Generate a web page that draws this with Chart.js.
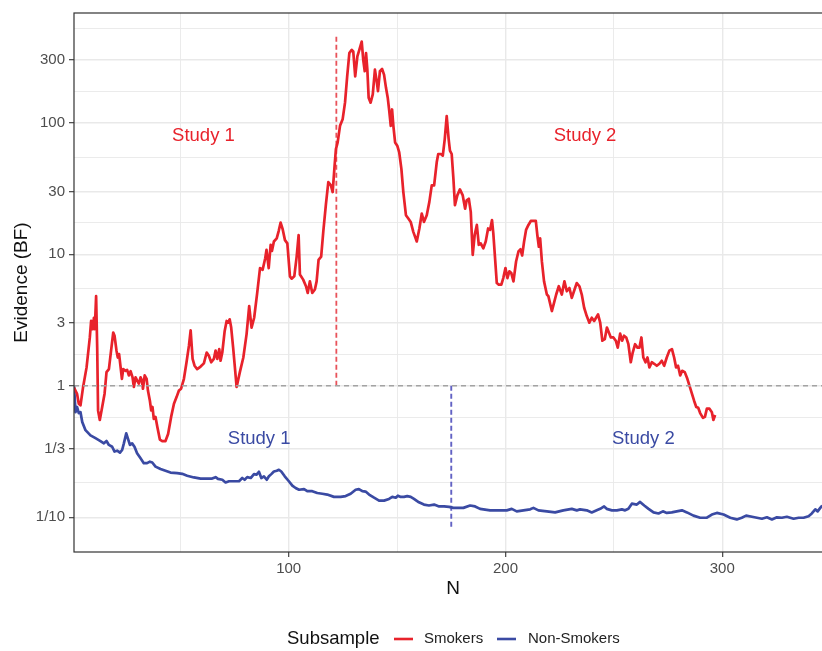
<!DOCTYPE html>
<html>
<head>
<meta charset="utf-8">
<script src="https://cdn.jsdelivr.net/npm/chart.js@4.4.1/dist/chart.umd.min.js"></script>
<style>
  html, body { margin: 0; padding: 0; background: #fff; }
</style>
</head>
<body>
<canvas id="bfChart" width="822" height="651"></canvas>
<script>
// Sequential Bayes factors
const smokersN = [1, 2.4, 3.2, 4.0, 5.2, 6.8, 8.3, 8.9, 9.6, 10.2, 10.6, 11.2, 11.7, 12.1, 12.9, 14.0, 15.1, 16.0, 17.1, 18.1,
  19.1, 19.7, 20.6, 21.2, 21.8, 22.5, 23.1, 23.7, 24.8, 25.5, 26.3, 27.1, 28.0, 28.6, 29.4, 30.1, 30.9, 31.7, 32.3, 32.8,
  33.6, 34.5, 35.1, 36.0, 36.6, 37.2, 37.8, 38.6, 39.4, 40.6, 41.7, 43.2, 44.4, 45.8, 47.1, 48.3, 49.4, 50.4, 51.7, 52.9,
  54.0, 54.8, 55.7, 56.6, 57.8, 59.4, 60.9, 62.2, 63.2, 64.3, 65.5, 66.3, 67.1, 68.0, 68.6, 69.4, 70.5, 71.4, 72.1, 72.8,
  73.5, 74.4, 76.0, 77.5, 79.1, 80.6, 81.8, 82.9, 84.1, 85.5, 86.8, 88.0, 89.2, 89.8, 90.8, 91.7, 92.3, 93.2, 94.5, 95.4,
  96.3, 97.2, 98.3, 99.4, 100.6, 101.4, 102.6, 103.7, 104.6, 105.2, 106.7, 108.0, 108.8, 109.8, 110.9, 112.1, 112.9, 113.8, 115.0, 116.0,
  117.2, 118.3, 119.5, 120.3, 121.2, 121.8, 122.6, 123.7, 124.9, 126.0, 127.0, 128.0, 129.1, 129.8, 130.7, 131.7, 132.6, 133.7, 134.4, 135.1,
  135.7, 136.3, 136.9, 137.8, 138.8, 139.8, 140.6, 141.2, 142.1, 143.1, 144.0, 144.9, 145.7, 146.4, 147.1, 147.7, 148.3, 149.1, 150.1, 151.0,
  152.0, 152.9, 154.1, 155.2, 156.3, 157.5, 159.1, 160.3, 161.4, 162.4, 163.7, 164.9, 166.0, 167.1, 168.3, 169.0, 170.2, 171.1, 172.0, 172.9,
  173.8, 174.4, 175.2, 176.0, 176.7, 177.8, 179.0, 180.3, 181.4, 182.1, 183.1, 184.0, 184.9, 185.8, 186.8, 187.7, 188.6, 189.8, 190.9, 192.0,
  192.9, 193.8, 194.4, 195.2, 196.0, 196.9, 198.1, 199.0, 200.0, 200.9, 201.8, 202.7, 203.7, 204.9, 206.0, 206.9, 207.7, 208.6, 209.5, 210.6,
  211.7, 214.0, 214.7, 215.4, 216.0, 216.8, 217.8, 219.1, 219.8, 221.4, 222.4, 223.4, 224.6, 226.0, 227.2, 228.3, 229.5, 230.6, 232.1, 232.9,
  234.1, 235.2, 236.3, 237.5, 238.7, 239.8, 240.9, 241.8, 242.7, 243.7, 244.7, 245.8, 246.8, 247.7, 248.6, 249.8, 250.9, 251.8, 252.9, 253.8,
  254.7, 255.7, 256.7, 257.8, 258.7, 259.8, 260.9, 261.8, 262.7, 263.6, 264.6, 265.5, 266.4, 267.5, 268.6, 269.8, 271.0, 272.1, 273.2, 274.4,
  275.6, 276.8, 277.8, 278.7, 279.6, 280.6, 281.5, 282.7, 283.9, 284.9, 286.0, 287.0, 288.0, 288.9, 289.8, 291.1, 292.0, 292.9, 294.1, 295.2,
  295.9, 296.7];
const smokersBF = [0.97, 0.87, 0.73, 0.71, 0.98, 1.38, 2.33, 3.11, 2.69, 3.29, 2.70, 4.80, 1.95, 0.65, 0.55, 0.69, 0.87, 1.27, 1.34, 1.85,
  2.54, 2.40, 1.85, 1.64, 1.74, 1.38, 1.13, 1.34, 1.30, 1.32, 1.20, 1.29, 1.16, 0.98, 1.16, 1.10, 1.04, 1.16, 1.10, 0.95,
  1.20, 1.13, 0.92, 0.77, 0.65, 0.69, 0.56, 0.58, 0.49, 0.39, 0.38, 0.38, 0.43, 0.58, 0.73, 0.82, 0.92, 0.95, 1.13, 1.51,
  2.01, 2.64, 1.60, 1.42, 1.34, 1.40, 1.48, 1.79, 1.69, 1.51, 1.60, 1.85, 1.60, 1.90, 1.55, 1.79, 2.61, 3.11, 3.02, 3.20,
  2.77, 1.95, 0.98, 1.27, 1.64, 2.47, 4.03, 2.77, 3.29, 5.08, 7.84, 7.62, 9.33, 10.8, 7.84, 11.8, 10.6, 12.5, 13.2, 15.0,
  17.4, 15.6, 12.8, 12.1, 6.79, 6.52, 6.79, 9.6, 14.0, 7.0, 6.41, 5.71, 5.08, 6.22, 5.08, 5.39, 6.22, 9.07, 9.6, 15,
  24, 35.3, 33.4, 29.7, 47.2, 63.0, 70.8, 94.6, 106, 142, 225, 338, 358, 348, 225, 319, 358, 414, 301, 246,
  338, 253, 155, 142, 164, 253, 207, 174, 246, 256, 232, 184, 155, 123, 94.6, 126, 94.6, 70.8, 66.8, 59.5,
  44.5, 29.7, 19.8, 18.7, 17.6, 14.8, 12.5, 15.7, 20.4, 17.6, 19.8, 25.0, 33.4, 33.4, 50.0, 57.8, 57.8, 56.2, 75, 112,
  75, 61.3, 57.8, 37.4, 23.6, 28.0, 31.1, 28.0, 22.2, 25.7, 26.4, 21.0, 9.9, 14.0, 16.7, 11.8, 12.1, 11.1, 12.5, 15.7,
  15.3, 18.2, 14.4, 9.33, 6.04, 5.88, 5.88, 6.59, 7.84, 6.59, 7.41, 7.19, 6.22, 8.81, 10.5, 10.9, 9.78, 12.5, 15.3, 16.7,
  17.9, 17.9, 14.0, 11.4, 13.2, 8.81, 6.22, 4.94, 4.80, 3.70, 4.27, 4.94, 5.71, 4.94, 6.22, 5.23, 5.54, 4.66, 5.54, 6.04,
  5.71, 4.94, 3.92, 3.39, 3.02, 3.29, 3.11, 3.29, 3.49, 3.02, 2.20, 2.26, 2.77, 2.54, 2.33, 2.33, 2.20, 1.95, 2.49, 2.20,
  2.40, 2.33, 2.07, 1.51, 1.79, 2.07, 1.95, 1.95, 2.33, 1.64, 1.51, 1.64, 1.38, 1.51, 1.47, 1.42, 1.47, 1.55, 1.42, 1.64,
  1.85, 1.90, 1.64, 1.38, 1.42, 1.20, 1.30, 1.27, 1.13, 1.00, 0.87, 0.77, 0.69, 0.68, 0.62, 0.57, 0.58, 0.67, 0.67, 0.63,
  0.55, 0.60];

const nonSmokersN = [1, 1.7, 2.4, 3.2, 4.0, 4.8, 6.3, 8.6, 10.9, 13.2, 14.8, 16.0, 17.1, 18.6, 19.7, 20.9, 22.2, 23.2, 24.0, 25.1,
  25.8, 26.8, 27.8, 28.9, 30.1, 31.7, 33.2, 34.7, 36.0, 37.1, 38.6, 40.9, 43.2, 45.5, 48.6, 50.9, 53.2, 56.3, 59.4, 62.4,
  64.7, 66.3, 67.4, 69.4, 70.9, 72.5, 74.8, 77.1, 78.6, 79.7, 80.9, 82.5, 84.0, 85.2, 86.3, 87.4, 88.6, 89.9, 90.9, 92.0,
  93.2, 94.5, 95.5, 96.6, 98.2, 100.1, 101.7, 103.2, 104.8, 107.1, 108.6, 110.9, 113.2, 115.5, 117.8, 120.9, 124.0, 126.3, 128.6, 130.9,
  132.4, 134.0, 135.5, 137.1, 139.4, 141.7, 144.0, 146.3, 147.8, 149.4, 150.4, 151.7, 153.2, 154.7, 156.3, 157.8, 160.1, 162.4, 164.7, 167.1,
  169.4, 171.7, 174.0, 176.0, 180.6, 183.7, 186.0, 188.3, 192.9, 197.5, 200.6, 202.9, 205.2, 208.3, 211.4, 212.9, 215.2, 219.1, 222.9, 226.7,
  230.6, 232.9, 234.4, 237.5, 239.8, 242.1, 243.7, 245.5, 246.7, 249.1, 251.4, 253.7, 255.2, 256.7, 258.3, 260.6, 262.1, 264.0, 266.0, 268.3,
  270.6, 272.6, 274.4, 276.7, 279.0, 281.4, 283.7, 286.7, 289.8, 292.9, 295.2, 297.5, 300.6, 303.7, 306.7, 309.0, 311.0, 313.7, 316.0, 318.3,
  320.6, 322.9, 325.2, 327.5, 329.8, 332.9, 335.2, 337.5, 339.8, 341.3, 342.9, 344.0, 345.2, 346.1];
const nonSmokersBF = [1.0, 0.63, 0.69, 0.62, 0.63, 0.53, 0.46, 0.42, 0.40, 0.38, 0.365, 0.38, 0.355, 0.344, 0.316, 0.321, 0.310, 0.325, 0.365, 0.435,
  0.40, 0.355, 0.365, 0.344, 0.307, 0.281, 0.258, 0.258, 0.265, 0.261, 0.243, 0.233, 0.226, 0.219, 0.217, 0.214, 0.207, 0.201, 0.197, 0.197,
  0.197, 0.202, 0.196, 0.193, 0.184, 0.188, 0.188, 0.188, 0.199, 0.193, 0.202, 0.199, 0.213, 0.211, 0.222, 0.199, 0.205, 0.193, 0.205, 0.213,
  0.223, 0.226, 0.230, 0.223, 0.205, 0.188, 0.174, 0.167, 0.162, 0.164, 0.158, 0.158, 0.153, 0.151, 0.149, 0.143, 0.143, 0.145, 0.151, 0.162,
  0.164, 0.158, 0.157, 0.149, 0.141, 0.134, 0.134, 0.138, 0.143, 0.141, 0.146, 0.143, 0.143, 0.145, 0.143, 0.138, 0.130, 0.125, 0.123, 0.125,
  0.121, 0.121, 0.120, 0.118, 0.118, 0.123, 0.121, 0.116, 0.113, 0.113, 0.113, 0.116, 0.111, 0.113, 0.115, 0.118, 0.113, 0.111, 0.109, 0.113,
  0.116, 0.113, 0.115, 0.113, 0.109, 0.113, 0.116, 0.121, 0.116, 0.113, 0.113, 0.115, 0.113, 0.116, 0.127, 0.125, 0.131, 0.123, 0.116, 0.109,
  0.107, 0.111, 0.108, 0.109, 0.111, 0.113, 0.109, 0.103, 0.0993, 0.0993, 0.105, 0.108, 0.105, 0.0993, 0.0964, 0.0993, 0.103, 0.101, 0.0993, 0.0976,
  0.100, 0.0964, 0.100, 0.0993, 0.101, 0.0976, 0.0993, 0.0993, 0.102, 0.107, 0.115, 0.111, 0.118, 0.123];

// where Study 2 starts, and how far the marker lines reach
const smokersSplitN = 122;
const smokersSplitTop = 450;
const nonSmokersSplitN = 175;
const nonSmokersSplitBottom = 0.0845;

// axis setup
const xMin = 1, xMax = 346;
const yMin = 0.0545, yMax = 682;
const xMajorTicks = [100, 200, 300];
const xMinorTicks = [50, 150, 250];
const yTickValues = [0.1, 1 / 3, 1, 3, 10, 30, 100, 300];
const yTickLabels = ['1/10', '1/3', '1', '3', '10', '30', '100', '300'];
const yMinorTicks = [0.1826, 0.5774, 1.732, 5.477, 17.32, 54.77, 173.2, 519.6];

// "Study" annotations
const noteText = ['Study 1', 'Study 2', 'Study 1', 'Study 2'];
const noteN = [60.7, 236.7, 86.4, 263.6];
const noteBF = [79, 79, 0.394, 0.394];
const noteGroup = ['smokers', 'smokers', 'nonSmokers', 'nonSmokers'];

const RED = '#e8222b';
const BLUE = '#3a4aa3';
const FONT = '"Liberation Sans", Arial, Helvetica, sans-serif';

Chart.defaults.font.family = FONT;

const toPoints = (xs, ys) => xs.map((v, i) => ({ x: v, y: ys[i] }));
const isYMajor = v => yTickValues.some(t => Math.abs(t - v) / t < 1e-6);

const decorations = {
  id: 'decorations',
  afterDatasetsDraw(chart) {
    const { ctx, chartArea: a, scales: { x, y } } = chart;
    ctx.save();
    ctx.font = '18.5px ' + FONT;
    ctx.textAlign = 'center';
    ctx.textBaseline = 'middle';
    noteText.forEach((t, i) => {
      ctx.fillStyle = noteGroup[i] === 'smokers' ? RED : BLUE;
      ctx.fillText(t, x.getPixelForValue(noteN[i]), y.getPixelForValue(noteBF[i]));
    });
    // panel border (right side falls off the canvas, as in the original)
    ctx.strokeStyle = '#333333';
    ctx.lineWidth = 1.2;
    ctx.strokeRect(a.left, a.top, a.right - a.left + 20, a.bottom - a.top);
    ctx.restore();
  },
  afterDraw(chart) {
    const { ctx, chartArea: a } = chart;
    ctx.save();
    ctx.fillStyle = '#111';
    ctx.textBaseline = 'middle';

    // axis titles
    ctx.font = '19px ' + FONT;
    ctx.textAlign = 'center';
    ctx.fillText('N', 453, 589);
    ctx.save();
    ctx.translate(22, (a.top + a.bottom) / 2);
    ctx.rotate(-Math.PI / 2);
    ctx.fillText('Evidence (BF)', 0, 0);
    ctx.restore();

    // legend
    const ly = 639;
    ctx.textAlign = 'left';
    ctx.font = '18.5px ' + FONT;
    ctx.fillText('Subsample', 287, ly);
    ctx.lineWidth = 2.6;
    ctx.strokeStyle = RED;
    ctx.beginPath(); ctx.moveTo(394, ly); ctx.lineTo(413, ly); ctx.stroke();
    ctx.strokeStyle = BLUE;
    ctx.beginPath(); ctx.moveTo(497, ly); ctx.lineTo(516, ly); ctx.stroke();
    ctx.font = '15px ' + FONT;
    ctx.fillStyle = '#222';
    ctx.fillText('Smokers', 424, ly);
    ctx.fillText('Non-Smokers', 528, ly);
    ctx.restore();
  }
};

new Chart(document.getElementById('bfChart'), {
  type: 'line',
  data: {
    datasets: [
      {
        label: 'BF = 1',
        data: [{ x: xMin, y: 1 }, { x: xMax, y: 1 }],
        borderColor: '#a3a3a3',
        borderWidth: 1.4,
        borderDash: [5, 4]
      },
      {
        label: 'Smokers',
        data: toPoints(smokersN, smokersBF),
        borderColor: RED,
        borderWidth: 2.7
      },
      {
        label: 'Non-Smokers',
        data: toPoints(nonSmokersN, nonSmokersBF),
        borderColor: BLUE,
        borderWidth: 2.7
      },
      {
        label: 'Smokers split',
        data: [{ x: smokersSplitN, y: 1 }, { x: smokersSplitN, y: smokersSplitTop }],
        borderColor: '#e8525a',
        borderWidth: 1.8,
        borderDash: [5, 3]
      },
      {
        label: 'Non-Smokers split',
        data: [{ x: nonSmokersSplitN, y: 1 }, { x: nonSmokersSplitN, y: nonSmokersSplitBottom }],
        borderColor: '#6262c4',
        borderWidth: 1.9,
        borderDash: [5, 3]
      }
    ]
  },
  options: {
    responsive: false,
    animation: false,
    events: [],
    layout: { padding: { left: 0, right: 0, top: 10, bottom: 0 } },
    elements: {
      point: { radius: 0 },
      line: { tension: 0, borderJoinStyle: 'round', borderCapStyle: 'butt' }
    },
    plugins: {
      legend: { display: false },
      tooltip: { enabled: false }
    },
    scales: {
      x: {
        type: 'linear',
        min: xMin,
        max: xMax,
        afterFit(s) { s.height = 99; },
        afterBuildTicks(s) {
          s.ticks = [...xMinorTicks, ...xMajorTicks].sort((p, q) => p - q).map(v => ({ value: v }));
        },
        ticks: {
          autoSkip: false,
          maxRotation: 0,
          padding: 3,
          color: '#4d4d4d',
          font: { size: 15 },
          callback: v => xMajorTicks.includes(v) ? String(v) : ''
        },
        grid: {
          color: '#e9e9e9',
          lineWidth: c => xMajorTicks.includes(c.tick && c.tick.value) ? 1.4 : 0.9,
          tickLength: 5,
          tickWidth: 1.1,
          tickColor: c => xMajorTicks.includes(c.tick && c.tick.value) ? '#333333' : 'rgba(0,0,0,0)'
        },
        border: { display: false }
      },
      y: {
        type: 'logarithmic',
        min: yMin,
        max: yMax,
        afterFit(s) { s.width = 74; },
        afterBuildTicks(s) {
          s.ticks = [...yTickValues, ...yMinorTicks].sort((p, q) => p - q).map(v => ({ value: v }));
        },
        ticks: {
          autoSkip: false,
          padding: 4,
          color: '#4d4d4d',
          font: { size: 15 },
          callback: v => {
            const i = yTickValues.findIndex(t => Math.abs(t - v) / t < 1e-6);
            return i >= 0 ? yTickLabels[i] : '';
          }
        },
        grid: {
          color: '#e9e9e9',
          lineWidth: c => c.tick && isYMajor(c.tick.value) ? 1.4 : 0.9,
          tickLength: 5,
          tickWidth: 1.1,
          tickColor: c => c.tick && isYMajor(c.tick.value) ? '#333333' : 'rgba(0,0,0,0)'
        },
        border: { display: false }
      }
    }
  },
  plugins: [decorations]
});
</script>
</body>
</html>
